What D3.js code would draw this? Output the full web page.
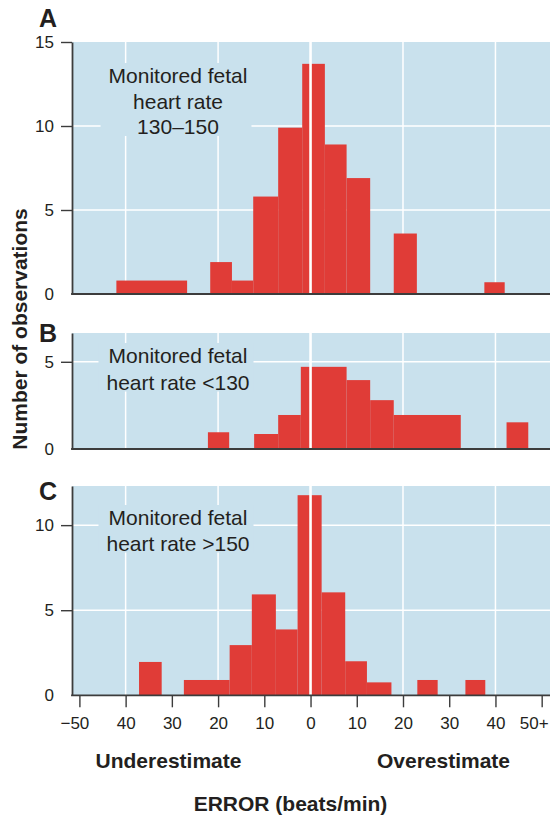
<!DOCTYPE html>
<html>
<head>
<meta charset="utf-8">
<script src="https://cdn.jsdelivr.net/npm/d3@7"></script>
<style>
  html, body { margin: 0; padding: 0; background: #ffffff; }
  svg { display: block; font-family: "Liberation Sans", Arial, Helvetica, sans-serif; }
</style>
</head>
<body>
<svg id="chart" width="560" height="817"></svg>
<script>
// Error of estimated fetal heart rate (beats/min), three monitored-rate groups.
// Each bar: bin start, bin end, number of observations.

// A: monitored fetal heart rate 130–150
const binStartA = [-42.0, -21.7, -17.0, -12.4, -7.0, -1.8, 3.1, 7.8, 18.0, 37.6];
const binEndA   = [-26.7, -17.0, -12.4, -7.0, -1.8, 3.1, 7.8, 12.9, 23.0, 42.0];
const countA    = [0.8, 1.9, 0.8, 5.8, 9.9, 13.7, 8.9, 6.9, 3.6, 0.7];

// B: monitored fetal heart rate <130
const binStartB = [-22.2, -12.2, -7.0, -2.1, 7.8, 12.9, 18.0, 42.4];
const binEndB   = [-17.6, -7.0, -2.1, 7.8, 12.9, 18.0, 32.5, 47.1];
const countB    = [0.96, 0.86, 1.95, 4.71, 3.95, 2.8, 1.95, 1.53];

// C: monitored fetal heart rate >150
const binStartC = [-37.1, -27.4, -17.5, -12.7, -7.5, -2.8, 2.4, 7.5, 12.2, 23.1, 33.5];
const binEndC   = [-32.2, -17.5, -12.7, -7.5, -2.8, 2.4, 7.5, 12.2, 17.5, 27.5, 37.8];
const countC    = [1.96, 0.9, 2.95, 5.93, 3.87, 11.76, 6.05, 2.0, 0.76, 0.9, 0.9];

// Axis ticks and labels
const xTickValues = [-50, -40, -30, -20, -10, 0, 10, 20, 30, 40, 50];
const xTickLabels = ["\u221250", "40", "30", "20", "10", "0", "10", "20", "30", "40", "50+"];
const xGridValues = [-40, -20, 20, 40];
const yTicksA = [0, 5, 10, 15];
const yTicksB = [0, 5];
const yTicksC = [0, 5, 10];

const panelLetters = ["A", "B", "C"];
const panelNotes = [
  ["Monitored fetal", "heart rate", "130\u2013150"],
  ["Monitored fetal", "heart rate <130"],
  ["Monitored fetal", "heart rate >150"]
];

const COLORS = {
  plotBg: "#c9e1ed",
  bar: "#e03c37",
  grid: "#ffffff",
  axis: "#3c3c3c",
  text: "#231f20"
};

const svg = d3.select("#chart");

const left = 72, right = 550;
const x = d3.scaleLinear().domain([-51.6, 51.8]).range([left, right]);

const panels = [
  { starts: binStartA, ends: binEndA, counts: countA, yMax: 15, top: 42, bottom: 294, ticks: yTicksA,
    letterY: 27, noteX: 178, noteY: 83, lineH: 25.5, xAxis: false },
  { starts: binStartB, ends: binEndB, counts: countB, yMax: 6.65, top: 333, bottom: 449, ticks: yTicksB,
    letterY: 342, noteX: 178, noteY: 363, lineH: 26.5, xAxis: false },
  { starts: binStartC, ends: binEndC, counts: countC, yMax: 12.3, top: 486, bottom: 695.3, ticks: yTicksC,
    letterY: 500, noteX: 178, noteY: 525, lineH: 25.5, xAxis: true }
];

panels.forEach((p, i) => {
  const y = d3.scaleLinear().domain([0, p.yMax]).range([p.bottom, p.top]);
  const g = svg.append("g");

  // plot background
  g.append("rect")
    .attr("x", left).attr("y", p.top)
    .attr("width", right - left).attr("height", p.bottom - p.top)
    .attr("fill", COLORS.plotBg);

  // white grid
  g.selectAll("line.vgrid").data(xGridValues).join("line")
    .attr("class", "vgrid")
    .attr("x1", d => x(d)).attr("x2", d => x(d))
    .attr("y1", p.top).attr("y2", p.bottom)
    .attr("stroke", COLORS.grid).attr("stroke-width", 1.5);
  g.selectAll("line.hgrid").data(p.ticks.filter(t => t > 0 && t < p.yMax)).join("line")
    .attr("class", "hgrid")
    .attr("x1", left).attr("x2", right)
    .attr("y1", d => y(d)).attr("y2", d => y(d))
    .attr("stroke", COLORS.grid).attr("stroke-width", 1.5);

  // group note with a background patch that interrupts the grid
  const noteG = g.append("g");
  const maskRect = noteG.append("rect").attr("fill", COLORS.plotBg);
  const note = noteG.append("text")
    .attr("text-anchor", "middle")
    .attr("font-size", 21)
    .attr("fill", COLORS.text);
  panelNotes[i].forEach((line, k) => {
    note.append("tspan")
      .attr("x", p.noteX)
      .attr("y", p.noteY + k * p.lineH)
      .text(line);
  });
  const bb = note.node().getBBox();
  maskRect
    .attr("x", bb.x - 8).attr("y", bb.y - 1)
    .attr("width", bb.width + 12).attr("height", bb.height - 1);

  // bars
  const bars = p.counts.map((c, k) => ({ x0: p.starts[k], x1: p.ends[k], n: c }));
  g.selectAll("rect.bar").data(bars).join("rect")
    .attr("class", "bar")
    .attr("x", d => x(d.x0))
    .attr("width", d => x(d.x1) - x(d.x0))
    .attr("y", d => y(d.n))
    .attr("height", d => y(0) - y(d.n))
    .attr("fill", COLORS.bar);

  // zero-error reference line over the bars
  g.append("line")
    .attr("x1", x(0)).attr("x2", x(0))
    .attr("y1", p.top).attr("y2", p.bottom)
    .attr("stroke", COLORS.grid).attr("stroke-width", 2.6);

  // left axis
  const yAxis = d3.axisLeft(y).tickValues(p.ticks).tickFormat(d3.format("d"))
    .tickSize(11).tickSizeOuter(0).tickPadding(7);
  const ya = g.append("g").attr("transform", `translate(${left},0)`).call(yAxis);
  ya.select(".domain").attr("stroke", COLORS.axis).attr("stroke-width", 1.8);
  ya.selectAll(".tick line").attr("stroke", COLORS.axis).attr("stroke-width", 1.4)
    .attr("display", d => d === 0 ? "none" : null);
  ya.selectAll(".tick text").attr("font-size", 17).attr("fill", COLORS.text)
    .attr("font-family", "'Liberation Sans', Arial, sans-serif");

  // bottom axis line (with ticks and labels on the last panel)
  if (p.xAxis) {
    const xAxis = d3.axisBottom(x).tickValues(xTickValues).tickSize(12).tickSizeOuter(0).tickPadding(10)
      .tickFormat((d, k) => xTickLabels[k]);
    const xa = g.append("g").attr("transform", `translate(0,${p.bottom})`).call(xAxis);
    xa.select(".domain").remove();
    xa.selectAll(".tick line").attr("stroke", COLORS.axis).attr("stroke-width", 1.4);
    xa.selectAll(".tick text").attr("font-size", 17).attr("fill", COLORS.text)
      .attr("font-family", "'Liberation Sans', Arial, sans-serif")
      .attr("dx", (d, k) => k === 0 ? -5 : (k === xTickValues.length - 1 ? -8 : 0));
  }
  g.append("line")
    .attr("x1", left - 0.9).attr("x2", right)
    .attr("y1", p.bottom).attr("y2", p.bottom)
    .attr("stroke", COLORS.axis).attr("stroke-width", 1.8);

  // panel letter
  svg.append("text")
    .attr("x", 48).attr("y", p.letterY)
    .attr("text-anchor", "middle")
    .attr("font-size", 25).attr("font-weight", "bold")
    .attr("fill", COLORS.text)
    .text(panelLetters[i]);
});

// shared axis titles
svg.append("text")
  .attr("transform", "translate(27,329) rotate(-90)")
  .attr("text-anchor", "middle")
  .attr("font-size", 21).attr("font-weight", "bold")
  .attr("fill", COLORS.text)
  .text("Number of observations");

svg.append("text")
  .attr("x", 168.5).attr("y", 768)
  .attr("text-anchor", "middle")
  .attr("font-size", 21).attr("font-weight", "bold")
  .attr("fill", COLORS.text)
  .text("Underestimate");

svg.append("text")
  .attr("x", 443.5).attr("y", 768)
  .attr("text-anchor", "middle")
  .attr("font-size", 21).attr("font-weight", "bold")
  .attr("fill", COLORS.text)
  .text("Overestimate");

svg.append("text")
  .attr("x", 290.5).attr("y", 811)
  .attr("text-anchor", "middle")
  .attr("font-size", 21).attr("font-weight", "bold")
  .attr("fill", COLORS.text)
  .text("ERROR (beats/min)");
</script>
</body>
</html>
